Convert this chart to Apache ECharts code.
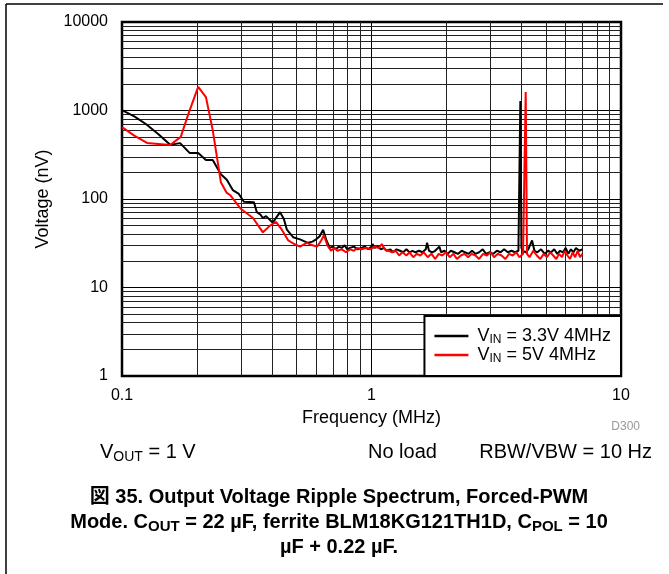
<!DOCTYPE html>
<html>
<head>
<meta charset="utf-8">
<script src="https://cdn.jsdelivr.net/npm/echarts@6/dist/echarts.min.js"></script>
<style>
    html, body { margin: 0; padding: 0; background: #fff; }
    #chart { width: 669px; height: 574px; }
</style>
</head>
<body>
<div id="chart"></div>
<script>
// VIN = 3.3V 4MHz  (frequency MHz, voltage nV)
var blackFreq = [0.100, 0.112, 0.125, 0.140, 0.156, 0.171, 0.187, 0.202, 0.217, 0.231, 0.249, 0.263, 0.278, 0.294, 0.308, 0.338, 0.347, 0.358, 0.367, 0.378, 0.402, 0.430, 0.445, 0.458, 0.485, 0.517, 0.556, 0.580, 0.600, 0.620, 0.640, 0.660, 0.680,
    0.70, 0.72, 0.74, 0.76, 0.78, 0.80, 0.82, 0.85, 0.88, 0.91, 0.94, 0.97, 1.00, 1.01, 1.03, 1.06, 1.09, 1.12, 1.15, 1.19, 1.22, 1.26, 1.30, 1.34, 1.38, 1.42, 1.46, 1.50, 1.55, 1.60, 1.65, 1.67, 1.70, 1.75, 1.80, 1.87, 1.90, 1.96,
    2.02, 2.08, 2.15, 2.22, 2.30, 2.37, 2.45, 2.53, 2.61, 2.70, 2.79, 2.88, 2.98, 3.08, 3.18, 3.29, 3.40, 3.52, 3.64, 3.76, 3.88, 3.93, 3.95, 3.97, 3.99, 4.05, 4.15, 4.25, 4.40, 4.50, 4.62, 4.78, 4.95,
    5.10, 5.25, 5.40, 5.55, 5.70, 5.85, 6.00, 6.15, 6.30, 6.45, 6.60, 6.80, 7.00];
var blackVolt = [1010, 860, 700, 540, 410, 428, 330, 330, 276, 276, 190, 165, 126, 114, 93, 92, 71, 67, 61, 64, 54, 71, 60, 45, 37, 35, 32, 33, 35, 38, 45, 34, 28,
    29, 27, 29, 28, 30, 27, 28, 29, 27, 28, 29, 27, 29, 31, 28, 29, 27, 28, 26, 27, 25, 27, 26, 25, 27, 25, 26, 25, 26, 25, 27, 32, 26, 25, 26, 29, 25, 26,
    24, 26, 25, 24, 26, 25, 24, 26, 24, 25, 27, 24, 25, 24, 26, 25, 27, 25, 26, 25, 26, 27, 1280, 1280, 28, 26, 25, 27, 34, 26, 25, 27, 24,
    26, 25, 27, 24, 26, 25, 28, 24, 27, 25, 28, 26, 27];

// VIN = 5V 4MHz
var redFreq = [0.100, 0.112, 0.126, 0.156, 0.172, 0.185, 0.202, 0.217, 0.231, 0.249, 0.263, 0.271, 0.300, 0.335, 0.367, 0.392, 0.414, 0.437, 0.464, 0.490, 0.517, 0.550, 0.580, 0.605, 0.625, 0.645, 0.665, 0.688,
    0.71, 0.73, 0.76, 0.79, 0.82, 0.85, 0.88, 0.91, 0.95, 0.99, 1.03, 1.07, 1.10, 1.13, 1.17, 1.21, 1.25, 1.29, 1.33, 1.38, 1.42, 1.47, 1.52, 1.57, 1.62, 1.68, 1.74, 1.80, 1.86, 1.92, 1.99,
    2.06, 2.13, 2.20, 2.28, 2.36, 2.44, 2.52, 2.61, 2.70, 2.80, 2.90, 3.00, 3.10, 3.21, 3.32, 3.44, 3.56, 3.68, 3.80, 3.92, 4.05, 4.12, 4.15, 4.17, 4.20, 4.30, 4.45, 4.60, 4.75, 4.90,
    5.05, 5.20, 5.35, 5.50, 5.65, 5.80, 5.95, 6.10, 6.25, 6.40, 6.55, 6.70, 6.85, 7.00];
var redVolt = [650, 520, 430, 407, 503, 935, 1845, 1418, 600, 155, 117, 111, 77, 61, 42, 50, 55, 45, 34, 31, 29, 32, 30, 29, 33, 39, 30, 26,
    28, 26, 27, 25, 27, 26, 28, 27, 28, 27, 29, 28, 31, 27, 26, 25, 26, 23, 25, 23, 25, 22, 24, 23, 25, 22, 24, 21, 24, 23, 25,
    22, 24, 21, 23, 24, 22, 24, 23, 21, 24, 23, 25, 22, 24, 23, 21, 24, 23, 25, 22, 24, 23, 1620, 1620, 24, 22, 26, 23, 21, 24,
    22, 25, 23, 21, 24, 22, 26, 23, 21, 25, 22, 26, 22, 24];

var xTicks = [0.1, 1, 10];
var yTicks = [1, 10, 100, 1000, 10000];
var legendNames = ['VIN = 3.3V 4MHz', 'VIN = 5V 4MHz'];

var font = '"Liberation Sans", Arial, "Noto Sans CJK JP", sans-serif';

function pairs(xs, ys) {
    var out = [];
    for (var i = 0; i < xs.length; i++) {
        out.push([xs[i], ys[i]]);
    }
    return out;
}

// minor grid lines 2..9 inside each decade
function minorLines(ticks, key) {
    var out = [];
    for (var i = 0; i < ticks.length - 1; i++) {
        for (var m = 2; m <= 9; m++) {
            var o = {};
            o[key] = +(ticks[i] * m).toPrecision(6);
            out.push(o);
        }
    }
    return out;
}

var chart = echarts.init(document.getElementById('chart'));

var rich = {
    n: { fontSize: 18, lineHeight: 20, fontFamily: font, color: '#000' },
    s: { fontSize: 12, lineHeight: 12, verticalAlign: 'bottom', fontFamily: font, color: '#000' },
    b: { fontSize: 20, lineHeight: 24, fontFamily: font, fontWeight: 'bold', color: '#000' },
    bs: { fontSize: 15, lineHeight: 15, verticalAlign: 'bottom', fontFamily: font, fontWeight: 'bold', color: '#000' },
    t: { fontSize: 20, lineHeight: 24, fontFamily: font, color: '#000' },
    ts: { fontSize: 14, lineHeight: 14, verticalAlign: 'bottom', fontFamily: font, color: '#000' }
};

var option = {
    animation: false,
    backgroundColor: '#fff',
    grid: {
        left: 122, right: 48, top: 22, bottom: 198,
        show: true, borderColor: '#000', borderWidth: 2.5, backgroundColor: 'transparent'
    },
    xAxis: {
        type: 'log', logBase: 10, min: xTicks[0], max: xTicks[xTicks.length - 1],
        name: 'Frequency (MHz)', nameLocation: 'middle', nameGap: 27,
        nameTextStyle: { fontSize: 18, fontFamily: font, color: '#000' },
        axisLine: { show: false },
        axisTick: { show: false },
        axisLabel: { fontSize: 16, fontFamily: font, color: '#000', margin: 12,
            formatter: function (v) { return String(+v.toPrecision(6)); } },
        splitLine: { show: true, lineStyle: { color: '#000', width: 1 } }
    },
    yAxis: {
        type: 'log', logBase: 10, min: yTicks[0], max: yTicks[yTicks.length - 1],
        name: 'Voltage (nV)', nameLocation: 'middle', nameGap: 70,
        nameTextStyle: { fontSize: 18, fontFamily: font, color: '#000' },
        axisLine: { show: false },
        axisTick: { show: false },
        axisLabel: { fontSize: 16, fontFamily: font, color: '#000', margin: 14,
            formatter: function (v) { return String(+v.toPrecision(6)); } },
        splitLine: { show: true, lineStyle: { color: '#000', width: 1 } }
    },
    legend: {
        orient: 'vertical',
        right: 48, bottom: 198,
        z: 10,
        padding: [11, 10, 11, 10],
        itemGap: 0,
        itemWidth: 34, itemHeight: 2.5,
        icon: 'rect',
        backgroundColor: '#fff',
        borderColor: '#000', borderWidth: 2, borderRadius: 0,
        data: legendNames,
        formatter: function (name) {
            var rest = name.slice(3);
            return '{n|V}{s|IN}{n|' + rest + '}';
        },
        textStyle: { rich: rich, padding: [0, 0, 0, 4] }
    },
    series: [
        {
            // grid only
            type: 'line', data: [], z: 1, silent: true,
            markLine: {
                silent: true, symbol: 'none', animation: false, z: 1,
                label: { show: false },
                lineStyle: { color: '#222', width: 1, type: 'solid' },
                data: minorLines(xTicks, 'xAxis').concat(minorLines(yTicks, 'yAxis'))
            }
        },
        {
            name: legendNames[0], type: 'line', showSymbol: false, z: 3,
            lineStyle: { color: '#000', width: 2 }, itemStyle: { color: '#000' },
            data: pairs(blackFreq, blackVolt)
        },
        {
            name: legendNames[1], type: 'line', showSymbol: false, z: 4,
            lineStyle: { color: '#f00', width: 2 }, itemStyle: { color: '#f00' },
            data: pairs(redFreq, redVolt)
        }
    ],
    graphic: [
        { type: 'line', shape: { x1: 6, y1: 4, x2: 663, y2: 4 }, style: { stroke: '#000', lineWidth: 1.5 } },
        { type: 'line', shape: { x1: 6, y1: 4, x2: 6, y2: 574 }, style: { stroke: '#000', lineWidth: 1.5 } },
        { type: 'text', x: 640, y: 427, style: { text: 'D300', fontSize: 12, fontFamily: font, fill: '#999', textAlign: 'right', textVerticalAlign: 'middle' } },
        { type: 'text', x: 100, y: 452, style: { text: '{t|V}{ts|OUT}{t| = 1 V}', rich: rich, textVerticalAlign: 'middle' } },
        { type: 'text', x: 368, y: 452, style: { text: '{t|No load}', rich: rich, textVerticalAlign: 'middle' } },
        { type: 'text', x: 652, y: 452, style: { text: '{t|RBW/VBW = 10 Hz}', rich: rich, textAlign: 'right', textVerticalAlign: 'middle' } },
        { type: 'text', x: 339, y: 497, style: { text: '{b|図 35. Output Voltage Ripple Spectrum, Forced-PWM}', rich: rich, textAlign: 'center', textVerticalAlign: 'middle' } },
        { type: 'text', x: 339, y: 522, style: { text: '{b|Mode. C}{bs|OUT}{b| = 22 µF, ferrite BLM18KG121TH1D, C}{bs|POL}{b| = 10}', rich: rich, textAlign: 'center', textVerticalAlign: 'middle' } },
        { type: 'text', x: 339, y: 547, style: { text: '{b|µF + 0.22 µF.}', rich: rich, textAlign: 'center', textVerticalAlign: 'middle' } }
    ]
};

chart.setOption(option);
</script>
</body>
</html>
